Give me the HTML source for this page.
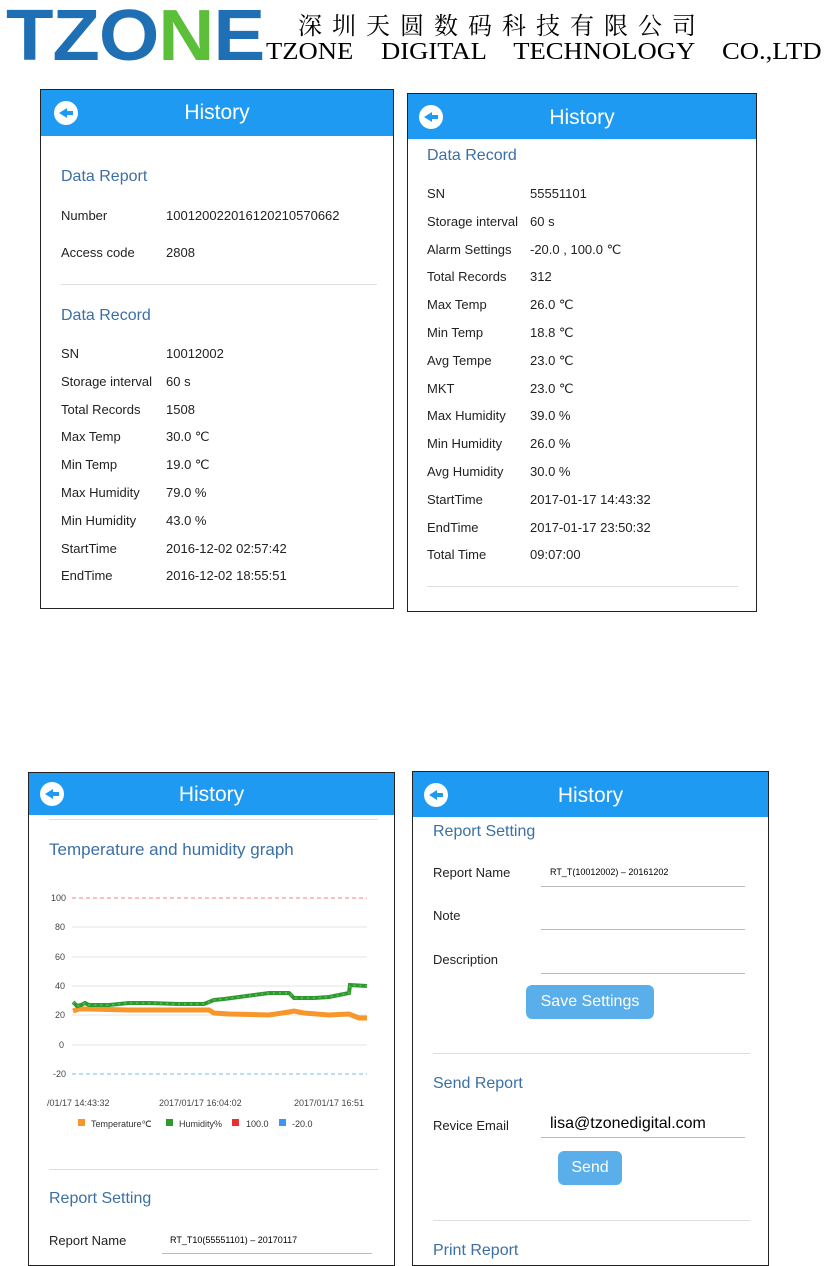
<!DOCTYPE html>
<html><head><meta charset="utf-8"><style>
body{margin:0;width:832px;height:1266px;background:#fff;position:relative;font-family:"Liberation Sans",sans-serif;overflow:hidden}
.a{position:absolute;white-space:nowrap}
.p{position:absolute;border:1.5px solid #222;background:#fff;overflow:hidden}
.h{position:absolute;left:0;top:0;right:0;background:#1e9af2;color:#fff;font-size:21px;text-align:center}
.ic{position:absolute;width:24px;height:24px;border-radius:50%;background:#fff}
.ic:after{content:"";position:absolute;left:5px;top:7px;border-right:8px solid #1e9af2;border-top:5px solid transparent;border-bottom:5px solid transparent}
.ic:before{content:"";position:absolute;left:11px;top:10px;width:8px;height:4px;background:#1e9af2}
.t{color:#3b6fa5;font-size:16px}
.l{font-size:13px;color:#222}
.d{position:absolute;height:1px;background:#ddd}
.u{position:absolute;height:1px;background:#bbb}
.b{position:absolute;background:#5aaeea;color:#fff;border-radius:6px;text-align:center;font-size:16px}
</style></head><body>
<div class="a" style="left:6px;top:-4px;font-size:72px;font-weight:bold;color:#1f6fb5;letter-spacing:-1px;line-height:80px;transform:scaleX(1.08);transform-origin:left">TZO<span style="color:#5bbf3a">N</span>E</div>
<div class="a" style="left:298px;top:6px;font-size:24px;letter-spacing:10px;font-family:'Noto Serif CJK SC',serif">深圳天圆数码科技有限公司</div>
<div class="a" style="left:266px;top:39px;font-size:24px;font-family:'Liberation Serif',serif;word-spacing:19px;transform:scaleX(1.11);transform-origin:left">TZONE DIGITAL TECHNOLOGY CO.,LTD</div>

<div class="p" style="left:40px;top:89px;width:352px;height:518px">
<div class="h" style="height:46px;line-height:46px">History</div><div class="ic" style="left:13px;top:11px"></div>
<div class="a t" style="left:20px;top:78px">Data Report</div>
<div class="a l" style="left:20px;top:118px">Number</div><div class="a l" style="left:125px;top:118px">10012002201612021​0570662</div>
<div class="a l" style="left:20px;top:155px">Access code</div><div class="a l" style="left:125px;top:155px">2808</div>
<div class="d" style="left:20px;right:16px;top:194px"></div>
<div class="a t" style="left:20px;top:217px">Data Record</div>
<div class="a l" style="left:20px;top:250px;line-height:27.8px">SN<br>Storage interval<br>Total Records<br>Max Temp<br>Min Temp<br>Max Humidity<br>Min Humidity<br>StartTime<br>EndTime</div>
<div class="a l" style="left:125px;top:250px;line-height:27.8px">10012002<br>60 s<br>1508<br>30.0 ℃<br>19.0 ℃<br>79.0 %<br>43.0 %<br>2016-12-02 02:57:42<br>2016-12-02 18:55:51</div>
</div>

<div class="p" style="left:407px;top:93px;width:348px;height:517px">
<div class="h" style="height:45px;line-height:48px">History</div><div class="ic" style="left:11px;top:11px"></div>
<div class="a t" style="left:19px;top:53px">Data Record</div>
<div class="a l" style="left:19px;top:86px;line-height:27.8px">SN<br>Storage interval<br>Alarm Settings<br>Total Records<br>Max Temp<br>Min Temp<br>Avg Tempe<br>MKT<br>Max Humidity<br>Min Humidity<br>Avg Humidity<br>StartTime<br>EndTime<br>Total Time</div>
<div class="a l" style="left:122px;top:86px;line-height:27.8px">55551101<br>60 s<br>-20.0 , 100.0 ℃<br>312<br>26.0 ℃<br>18.8 ℃<br>23.0 ℃<br>23.0 ℃<br>39.0 %<br>26.0 %<br>30.0 %<br>2017-01-17 14:43:32<br>2017-01-17 23:50:32<br>09:07:00</div>
<div class="d" style="left:19px;right:18px;top:492px"></div>
</div>

<div class="p" style="left:28px;top:772px;width:365px;height:492px">
<div class="h" style="height:42px;line-height:44px">History</div><div class="ic" style="left:11px;top:9px"></div>
<div class="d" style="left:20px;right:16px;top:46px"></div>
<div class="a t" style="left:20px;top:67px;font-size:17px">Temperature and humidity graph</div>
<svg class="a" style="left:0;top:0" width="365" height="492">
<g font-size="9" fill="#444" font-family="Liberation Sans">
<text x="22" y="128">100</text><text x="26" y="157">80</text><text x="26" y="187">60</text><text x="26" y="216">40</text><text x="26" y="245">20</text><text x="30" y="275">0</text><text x="24" y="304">-20</text>
<text x="18" y="333">/01/17 14:43:32</text><text x="130" y="333">2017/01/17 16:04:02</text><text x="265" y="333">2017/01/17 16:51</text>
</g>
<g stroke="#e3e3e3"><line x1="43" y1="154" x2="338" y2="154"/><line x1="43" y1="184" x2="338" y2="184"/><line x1="43" y1="213" x2="338" y2="213"/><line x1="43" y1="242" x2="338" y2="242"/><line x1="43" y1="272" x2="338" y2="272"/></g>
<line x1="43" y1="125" x2="338" y2="125" stroke="#f08080" stroke-dasharray="4,3"/>
<line x1="43" y1="301" x2="338" y2="301" stroke="#7ab8f0" stroke-dasharray="4,3"/>
<polyline fill="none" stroke="#f7962a" stroke-width="5" points="44,238 50,236 60,236 100,237 150,237 180,237 185,240 200,241 240,242 260,239 265,238 275,240 300,242 320,241 330,245 338,245"/>
<polyline fill="none" stroke="#2e9a2e" stroke-width="4" points="44,229 48,233 52,232 56,230 60,232 80,232 100,230 120,230 150,231 175,231 185,227 195,226 210,224 225,222 240,220 260,220 265,225 285,225 300,224 310,222 320,220 321,212 338,213"/>
<polyline fill="none" stroke="#5cc25c" stroke-width="1.5" stroke-dasharray="2,4" points="44,229 48,233 52,232 56,230 60,232 80,232 100,230 120,230 150,231 175,231 185,227 195,226 210,224 225,222 240,220 260,220 265,225 285,225 300,224 310,222 320,220 321,212 338,213"/>
<g font-size="9" fill="#333" font-family="Liberation Sans">
<rect x="49" y="346" width="7" height="7" fill="#f7962a"/><text x="62" y="354">Temperature℃</text>
<rect x="137" y="346" width="7" height="7" fill="#2e9a2e"/><text x="150" y="354">Humidity%</text>
<rect x="203" y="346" width="7" height="7" fill="#e83030"/><text x="217" y="354">100.0</text>
<rect x="250" y="346" width="7" height="7" fill="#3a96f0"/><text x="263" y="354">-20.0</text>
</g></svg>
<div class="d" style="left:20px;right:16px;top:396px"></div>
<div class="a t" style="left:20px;top:417px">Report Setting</div>
<div class="a l" style="left:20px;top:460px">Report Name</div>
<div class="a" style="left:141px;top:462px;font-size:9px">RT_T10(55551101) – 20170117</div>
<div class="u" style="left:133px;width:210px;top:480px"></div>
</div>

<div class="p" style="left:412px;top:771px;width:355px;height:493px">
<div class="h" style="height:45px;line-height:48px">History</div><div class="ic" style="left:11px;top:11px"></div>
<div class="a t" style="left:20px;top:51px">Report Setting</div>
<div class="a l" style="left:20px;top:93px">Report Name</div>
<div class="a" style="left:137px;top:95px;font-size:9px">RT_T(10012002) – 20161202</div>
<div class="u" style="left:128px;width:204px;top:114px"></div>
<div class="a l" style="left:20px;top:136px">Note</div>
<div class="u" style="left:128px;width:204px;top:157px"></div>
<div class="a l" style="left:20px;top:180px">Description</div>
<div class="u" style="left:128px;width:204px;top:201px"></div>
<div class="b" style="left:113px;top:213px;width:128px;height:34px;line-height:34px">Save Settings</div>
<div class="d" style="left:20px;right:18px;top:281px"></div>
<div class="a t" style="left:20px;top:303px">Send Report</div>
<div class="a l" style="left:20px;top:346px">Revice Email</div>
<div class="a" style="left:137px;top:343px;font-size:16px">lisa@tzonedigital.com</div>
<div class="u" style="left:128px;width:204px;top:365px"></div>
<div class="b" style="left:145px;top:379px;width:64px;height:34px;line-height:34px">Send</div>
<div class="d" style="left:20px;right:18px;top:448px"></div>
<div class="a t" style="left:20px;top:470px">Print Report</div>
</div>
</body></html>
